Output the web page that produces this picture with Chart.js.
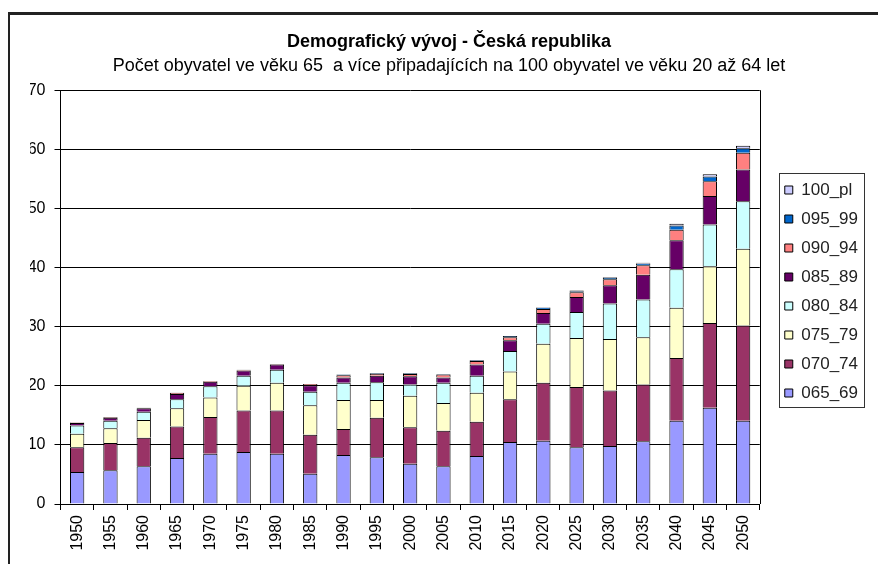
<!DOCTYPE html>
<html>
<head>
<meta charset="utf-8">
<script src="https://cdn.jsdelivr.net/npm/chart.js"></script>
<style>
  html, body { margin: 0; padding: 0; background: #fff; overflow: hidden; }
  #frame { position: absolute; left: 8px; top: 12px; width: 900px; height: 600px;
           border-top: 3px solid #222; border-left: 2px solid #222; }
  #wrap { position: absolute; left: 0; top: 0; width: 878px; height: 564px; }
</style>
</head>
<body>
<div id="frame"></div>
<div id="wrap"><canvas id="chart" width="878" height="564"></canvas></div>
<script>
// categories
var years = ["1950", "1955", "1960", "1965", "1970", "1975", "1980", "1985", "1990", "1995", "2000",
             "2005", "2010", "2015", "2020", "2025", "2030", "2035", "2040", "2045", "2050"];

// age groups, per 100 people aged 20-64
var age65_69 = [5.4, 5.7, 6.4, 7.8, 8.5, 8.8, 8.5, 5.1, 8.3, 7.9, 6.8, 6.4, 8.1, 10.5, 10.7, 9.6, 9.8, 10.6, 14.1, 16.3, 14.1];
var age70_74 = [4.2, 4.6, 4.8, 5.3, 6.2, 7.0, 7.3, 6.6, 4.4, 6.7, 6.2, 6.0, 5.8, 7.2, 9.8, 10.2, 9.4, 9.6, 10.6, 14.3, 16.1];
var age75_79 = [2.3, 2.5, 3.0, 3.1, 3.3, 4.2, 4.7, 5.0, 4.9, 3.0, 5.3, 4.7, 4.9, 4.7, 6.6, 8.3, 8.7, 8.0, 8.5, 9.6, 13.0];
var age80_84 = [1.4, 1.3, 1.4, 1.5, 1.9, 1.7, 2.2, 2.3, 2.9, 3.0, 1.9, 3.4, 2.9, 3.5, 3.4, 4.4, 6.0, 6.4, 6.5, 7.1, 8.0];
var age85_89 = [0.4, 0.5, 0.6, 0.9, 0.8, 0.9, 0.9, 1.1, 0.9, 1.1, 1.4, 0.9, 1.9, 1.8, 1.8, 2.5, 3.1, 4.2, 4.9, 4.8, 5.4];
var age90_94 = [0.1, 0.1, 0.1, 0.2, 0.1, 0.1, 0.1, 0.2, 0.4, 0.3, 0.4, 0.5, 0.6, 0.5, 0.7, 0.8, 1.0, 1.6, 1.8, 2.5, 2.8];
var age95_99 = [0, 0, 0, 0, 0, 0, 0, 0, 0.1, 0.1, 0.1, 0.1, 0.1, 0.2, 0.2, 0.2, 0.3, 0.3, 0.7, 0.8, 0.8];
var age100pl = [0, 0, 0, 0, 0, 0, 0, 0, 0, 0, 0, 0, 0, 0, 0.1, 0.1, 0.1, 0.1, 0.3, 0.4, 0.4];

var yTicks = [0, 10, 20, 30, 40, 50, 60, 70];

Chart.defaults.font.family = '"Liberation Sans", Arial, sans-serif';
Chart.defaults.color = "#000";

// thin frame around the legend items
var legendBox = {
	id: "legendBox",
	afterDraw: function (chart) {
		var boxes = chart.legend.legendHitBoxes;
		if (!boxes || !boxes.length) return;
		var left = boxes[0].left, right = 0, top = boxes[0].top, bottom = 0;
		boxes.forEach(function (b) {
			left = Math.min(left, b.left);
			right = Math.max(right, b.left + b.width);
			top = Math.min(top, b.top);
			bottom = Math.max(bottom, b.top + b.height);
		});
		var ctx = chart.ctx;
		ctx.save();
		ctx.strokeStyle = "#333";
		ctx.lineWidth = 1;
		ctx.strokeRect(Math.round(left - 6) + 0.5, Math.round(top - 9) + 0.5,
			Math.round(right - left + 12), Math.round(bottom - top + 14));
		ctx.restore();
	}
};

// right edge of the plot area
var plotBorder = {
	id: "plotBorder",
	afterDatasetsDraw: function (chart) {
		var a = chart.chartArea, ctx = chart.ctx;
		ctx.save();
		ctx.strokeStyle = "#000";
		ctx.lineWidth = 1;
		ctx.beginPath();
		ctx.moveTo(Math.round(a.right) + 0.5, a.top);
		ctx.lineTo(Math.round(a.right) + 0.5, a.bottom);
		ctx.stroke();
		ctx.restore();
	}
};

function series(label, values, color) {
	return {
		label: label,
		data: values,
		backgroundColor: color,
		borderColor: "#000",
		borderWidth: 1,
		barPercentage: 0.43,
		categoryPercentage: 1
	};
}

var data = {
	labels: years,
	datasets: [
		series("065_69", age65_69, "#9999FF"),
		series("070_74", age70_74, "#993366"),
		series("075_79", age75_79, "#FFFFCC"),
		series("080_84", age80_84, "#CCFFFF"),
		series("085_89", age85_89, "#660066"),
		series("090_94", age90_94, "#FF8080"),
		series("095_99", age95_99, "#0066CC"),
		series("100_pl", age100pl, "#CCCCFF")
	]
};

var options = {
	responsive: false,
	animation: false,
	layout: { padding: { left: 30, right: 10, top: 19, bottom: 0 } },
	plugins: {
		title: {
			display: true,
			text: "Demografický vývoj - Česká republika",
			font: { size: 18, weight: "bold" },
			color: "#000",
			padding: { top: 12, bottom: 2 }
		},
		subtitle: {
			display: true,
			text: "Počet obyvatel ve věku 65  a více připadajících na 100 obyvatel ve věku 20 až 64 let",
			font: { size: 18 },
			color: "#000",
			padding: { top: 1, bottom: 13 }
		},
		legend: {
			display: true,
			position: "right",
			reverse: true,
			labels: { boxWidth: 8, boxHeight: 8, padding: 12, font: { size: 17 }, color: "#222" }
		},
		tooltip: { enabled: false }
	},
	scales: {
		x: {
			stacked: true,
			grid: { drawOnChartArea: false, color: "#000", tickLength: 6 },
			border: { color: "#000" },
			ticks: { minRotation: 90, maxRotation: 90, padding: 5, font: { size: 16 }, color: "#000" },
			afterFit: function (scale) { scale.height = 60; }
		},
		y: {
			stacked: true,
			min: 0,
			max: 70,
			afterBuildTicks: function (scale) {
				scale.ticks = yTicks.map(function (v) { return { value: v }; });
			},
			grid: { color: "#000", tickLength: 6 },
			border: { color: "#000" },
			ticks: { padding: 9, font: { size: 16 }, color: "#000" },
			afterFit: function (scale) { scale.width = 30.5; }
		},
		gap: {
			position: "right",
			display: true,
			grid: { display: false },
			border: { display: false },
			ticks: { display: false },
			afterFit: function (scale) { scale.width = 13; }
		}
	}
};

var chart1 = new Chart(document.getElementById("chart"), {
	type: "bar",
	data: data,
	options: options,
	plugins: [legendBox, plotBorder]
});
</script>
</body>
</html>
